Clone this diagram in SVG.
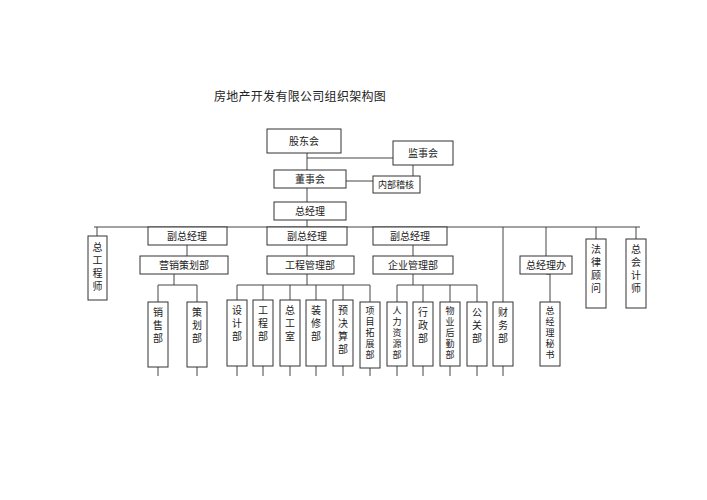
<svg xmlns="http://www.w3.org/2000/svg" width="707" height="500" viewBox="0 0 707 500">
<style>
.b{fill:#fff;stroke:#333;stroke-width:1}
.l{stroke:#444;stroke-width:1;fill:none}
text{font-family:"Noto Sans CJK SC","Noto Sans CJK JP",sans-serif;font-size:10px;fill:#222}
.h{text-anchor:middle}
.v{writing-mode:vertical-rl;letter-spacing:3px}
.s{font-size:9px;letter-spacing:2px}
</style>
<rect width="707" height="500" fill="#fff"/>
<text x="300" y="101" class="h" style="font-size:12px;letter-spacing:0.3px">房地产开发有限公司组织架构图</text>
<g id="connectors" class="l">
<path d="M307 153V170M307 158H393M413 165V176M346 181H373M307 188V202M307 220V227M94 227H640M97 227V236M187 227V245M307 227V245M410 227V245M503 227V302M546 227V256M596 227V239M636 227V239"/>
<path d="M187 245V256M307 245V256M413 245V256"/>
<path d="M174 274V285M158 285H197M158 285V302M197 285V302"/>
<path d="M307 274V285M237 285H370M237 285V300M263 285V300M290 285V300M316 285V300M343 285V300M370 285V302"/>
<path d="M413 274V285M397 285H477M397 285V302M423 285V302M450 285V302M477 285V302M550 274V302M546 274H550"/>
<path d="M158 367V376M197 367V376M237 366V376M263 366V376M290 366V376M316 366V376M343 366V376M370 368V376M397 366V376M423 366V376M450 366V376M477 366V376M503 366V376"/>
</g>
<g id="n-gudong"><rect class="b" x="267" y="129" width="74" height="24"/><text x="304" y="145" class="h">股东会</text></g>
<g id="n-jianshi"><rect class="b" x="393" y="141" width="60" height="24"/><text x="423" y="157" class="h">监事会</text></g>
<g id="n-dongshi"><rect class="b" x="274" y="170" width="72" height="18"/><text x="310" y="183" class="h">董事会</text></g>
<g id="n-jihe"><rect class="b" x="373" y="176" width="47" height="17"/><text x="396" y="188" class="h" style="font-size:9px">内部稽核</text></g>
<g id="n-zjl"><rect class="b" x="274" y="202" width="72" height="18"/><text x="310" y="215" class="h">总经理</text></g>
<g id="n-f1"><rect class="b" x="148" y="227" width="79" height="18"/><text x="187" y="240" class="h">副总经理</text></g>
<g id="n-f2"><rect class="b" x="267" y="227" width="80" height="18"/><text x="307" y="240" class="h">副总经理</text></g>
<g id="n-f3"><rect class="b" x="373" y="227" width="74" height="18"/><text x="410" y="240" class="h">副总经理</text></g>
<g id="n-yx"><rect class="b" x="140" y="256" width="88" height="18"/><text x="184" y="269" class="h">营销策划部</text></g>
<g id="n-gc"><rect class="b" x="267" y="256" width="87" height="18"/><text x="310" y="269" class="h">工程管理部</text></g>
<g id="n-qy"><rect class="b" x="373" y="256" width="80" height="18"/><text x="413" y="269" class="h">企业管理部</text></g>
<g id="n-zb"><rect class="b" x="520" y="256" width="52" height="18"/><text x="546" y="269" class="h">总经理办</text></g>
<g id="n-zgcs"><rect class="b" x="88" y="236" width="19" height="64"/><text class="v" x="97.5" y="242">总工程师</text></g>
<g id="n-fl"><rect class="b" x="586" y="239" width="20" height="69"/><text class="v" x="596" y="244">法律顾问</text></g>
<g id="n-zkj"><rect class="b" x="626" y="239" width="20" height="69"/><text class="v" x="636" y="244">总会计师</text></g>
<g id="n-xs"><rect class="b" x="148" y="302" width="20" height="65"/><text class="v" x="158" y="307">销售部</text></g>
<g id="n-ch"><rect class="b" x="187" y="302" width="20" height="65"/><text class="v" x="197" y="307">策划部</text></g>
<g id="n-sj"><rect class="b" x="227" y="300" width="20" height="66"/><text class="v" x="237" y="305">设计部</text></g>
<g id="n-gcb"><rect class="b" x="253" y="300" width="20" height="66"/><text class="v" x="263" y="305">工程部</text></g>
<g id="n-zgs"><rect class="b" x="280" y="300" width="20" height="66"/><text class="v" x="290" y="305">总工室</text></g>
<g id="n-zx"><rect class="b" x="306" y="300" width="20" height="66"/><text class="v" x="316" y="305">装修部</text></g>
<g id="n-yjs"><rect class="b" x="333" y="300" width="20" height="66"/><text class="v" x="343" y="305">预决算部</text></g>
<g id="n-xmtz"><rect class="b" x="360" y="302" width="20" height="66"/><text class="v s" x="370" y="306">项目拓展部</text></g>
<g id="n-rl"><rect class="b" x="387" y="302" width="20" height="64"/><text class="v s" x="397" y="306">人力资源部</text></g>
<g id="n-xz"><rect class="b" x="413" y="302" width="20" height="64"/><text class="v" x="423" y="307">行政部</text></g>
<g id="n-wy"><rect class="b" x="440" y="302" width="20" height="64"/><text class="v s" x="450" y="306">物业后勤部</text></g>
<g id="n-gg"><rect class="b" x="467" y="302" width="20" height="64"/><text class="v" x="477" y="307">公关部</text></g>
<g id="n-cw"><rect class="b" x="493" y="302" width="20" height="64"/><text class="v" x="503" y="307">财务部</text></g>
<g id="n-ms"><rect class="b" x="540" y="302" width="20" height="64"/><text class="v s" x="550" y="306">总经理秘书</text></g>
</svg>
